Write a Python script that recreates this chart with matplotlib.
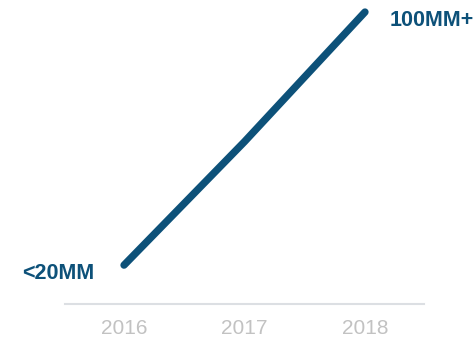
import matplotlib.pyplot as plt

years = [2016, 2017, 2018]
users = [18, 58, 100]
labels = ['2016', '2017', '2018']

line_color = '#0d5179'

fig = plt.figure(figsize=(4.77, 3.39), dpi=100)
ax = fig.add_axes([65 / 477, 35 / 339, 359 / 477, 304 / 339])

ax.plot(years, users, color=line_color, linewidth=5.3, solid_capstyle='round')

ax.set_xlim(2015.51, 2018.49)
ax.set_ylim(5.4, 103.9)

ax.annotate('<20MM', (years[0], users[0]), xytext=(-21, -6), textcoords='offset points',
            ha='right', va='center', fontsize=15.5, fontweight='bold',
            color=line_color, family='Liberation Sans')
ax.annotate('100MM+', (years[-1], users[-1]), xytext=(18, -6), textcoords='offset points',
            ha='left', va='center', fontsize=15.5, fontweight='bold',
            color=line_color, family='Liberation Sans')

ax.set_xticks(years)
ax.set_xticklabels(labels, fontsize=15, color='#c2c2c2', family='Liberation Sans')
ax.tick_params(axis='x', length=0, pad=11)
ax.set_yticks([])

for side in ['top', 'right', 'left']:
    ax.spines[side].set_visible(False)
ax.spines['bottom'].set_color('#dcdfe3')
ax.spines['bottom'].set_linewidth(1.5)

fig.savefig('out.png', dpi=100)
